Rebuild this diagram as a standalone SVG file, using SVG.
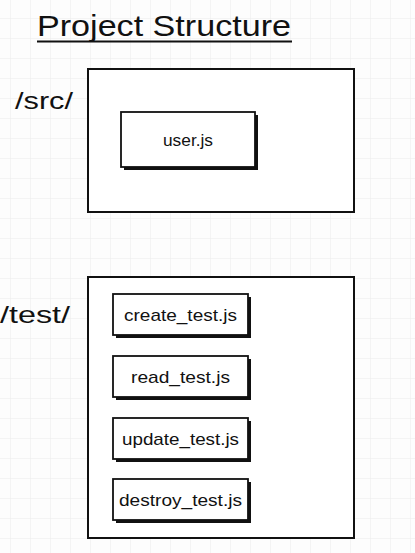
<svg xmlns="http://www.w3.org/2000/svg" width="415" height="553" viewBox="0 0 415 553">
  <defs>
    <pattern id="grid" x="10" y="18" width="20" height="20" patternUnits="userSpaceOnUse">
      <path d="M0 0 H20 M0 0 V20" fill="none" stroke="#ececec" stroke-width="1"/>
    </pattern>
  </defs>
  <style>
    .lbl { font-family: "Liberation Sans", Arial, sans-serif; fill: #111; }
    .frame { fill: #fff; stroke: #111; stroke-width: 2; }
    .shadow { fill: #111; }
    .file { fill: #fff; stroke: #111; stroke-width: 1.8; }
    .ftxt { font-family: "Liberation Sans", Arial, sans-serif; font-size: 17px; fill: #111; text-anchor: middle; }
  </style>
  <rect x="0" y="0" width="415" height="553" fill="#fdfdfd"/>
  <rect x="0" y="0" width="415" height="553" fill="url(#grid)"/>

  <g id="title">
    <text class="lbl" x="37" y="36" font-size="30" textLength="254" lengthAdjust="spacingAndGlyphs">Project Structure</text>
    <line x1="37" y1="41.5" x2="292" y2="41.5" stroke="#111" stroke-width="2"/>
  </g>

  <g id="src">
    <text class="lbl" x="15" y="109" font-size="24" textLength="58" lengthAdjust="spacingAndGlyphs">/src/</text>
    <rect class="frame" x="88" y="69" width="266" height="143"/>
  </g>

  <g id="user-js">
    <rect class="shadow" x="124" y="115" width="134" height="55"/>
    <rect class="file" x="121" y="112" width="134" height="55"/>
    <text class="ftxt" x="188" y="146" textLength="50" lengthAdjust="spacingAndGlyphs">user.js</text>
  </g>

  <g id="test">
    <text class="lbl" x="0" y="323" font-size="24" textLength="70" lengthAdjust="spacingAndGlyphs">/test/</text>
    <rect class="frame" x="88" y="277" width="266" height="261"/>
  </g>

  <g id="create-test">
    <rect class="shadow" x="116" y="297" width="135" height="41"/>
    <rect class="file" x="113" y="294" width="135" height="41"/>
    <text class="ftxt" x="180.5" y="321" textLength="113" lengthAdjust="spacingAndGlyphs">create_test.js</text>
  </g>

  <g id="read-test">
    <rect class="shadow" x="116" y="359" width="135" height="41"/>
    <rect class="file" x="113" y="356" width="135" height="41"/>
    <text class="ftxt" x="180.5" y="383" textLength="99" lengthAdjust="spacingAndGlyphs">read_test.js</text>
  </g>

  <g id="update-test">
    <rect class="shadow" x="116" y="421" width="135" height="41"/>
    <rect class="file" x="113" y="418" width="135" height="41"/>
    <text class="ftxt" x="180.5" y="445" textLength="117" lengthAdjust="spacingAndGlyphs">update_test.js</text>
  </g>

  <g id="destroy-test">
    <rect class="shadow" x="116" y="482" width="135" height="41"/>
    <rect class="file" x="113" y="479" width="135" height="41"/>
    <text class="ftxt" x="180.5" y="506" textLength="123" lengthAdjust="spacingAndGlyphs">destroy_test.js</text>
  </g>

  <g id="connectors"></g>
</svg>
